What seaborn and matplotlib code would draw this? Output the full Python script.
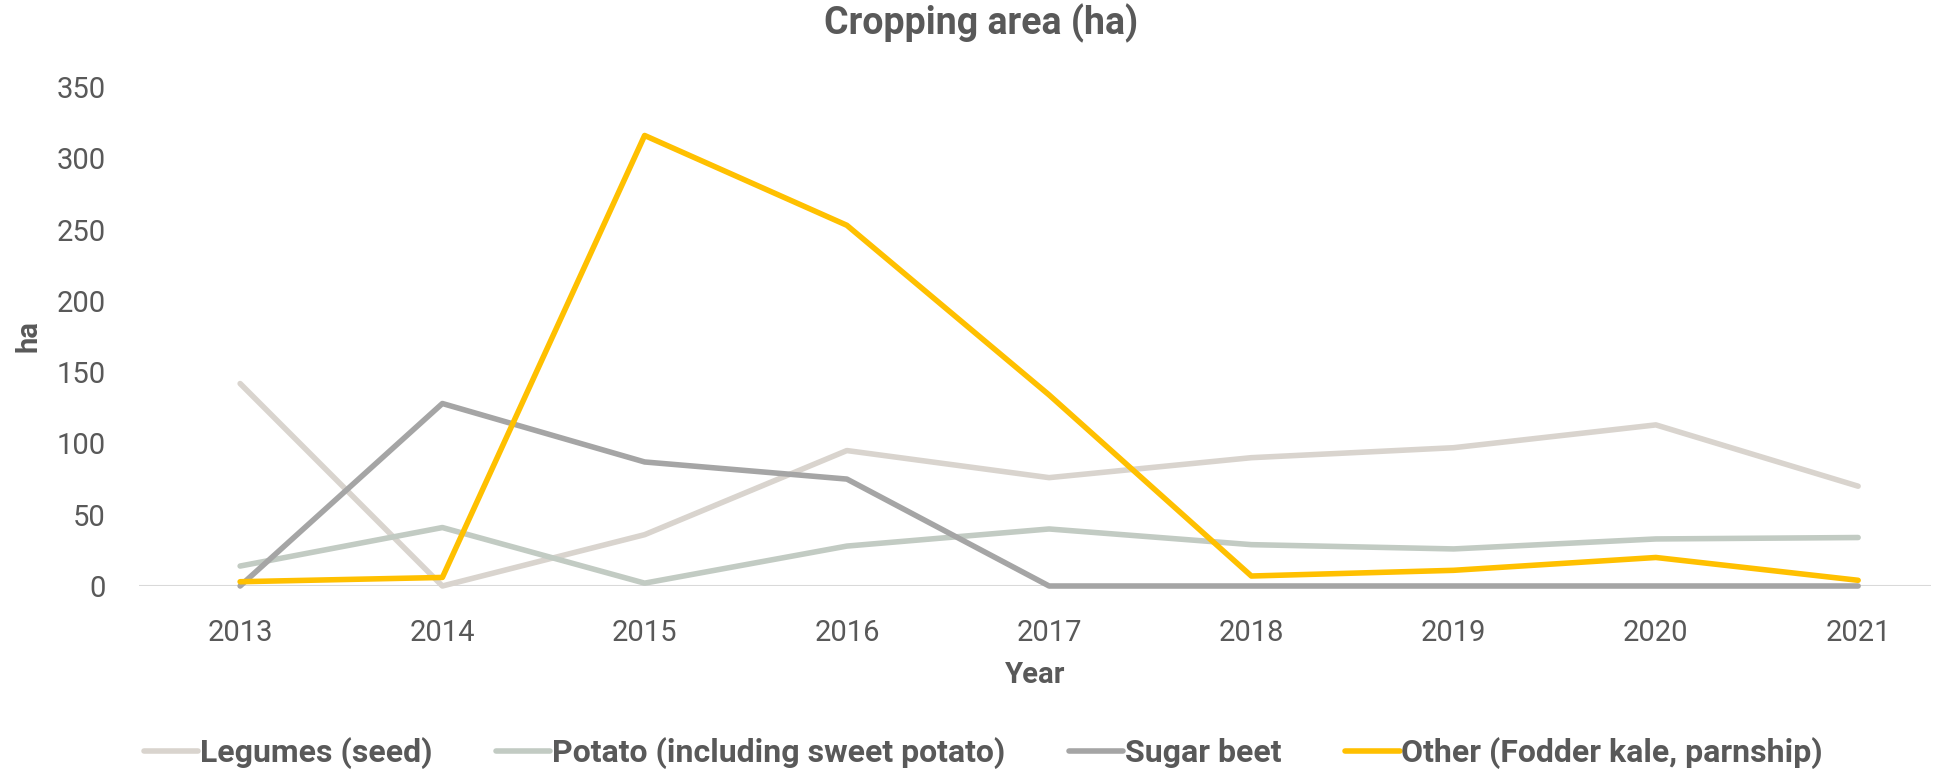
import numpy as np
import pandas as pd
import seaborn as sns
import matplotlib.pyplot as plt

years = [2013, 2014, 2015, 2016, 2017, 2018, 2019, 2020, 2021]
legumes = [142, 0, 36, 95, 76, 90, 97, 113, 70]
potato = [14, 41, 2, 28, 40, 29, 26, 33, 34]
sugar_beet = [0, 128, 87, 75, 0, 0, 0, 0, 0]
other = [3, 6, 316, 253, 134, 7, 11, 20, 4]

series_names = [
    "Legumes (seed)",
    "Potato (including sweet potato)",
    "Sugar beet",
    "Other (Fodder kale, parnship)",
]
colors = ["#D9D4CE", "#C2CBC3", "#A5A5A5", "#FFC000"]

df = pd.DataFrame({
    "Year": years * 4,
    "ha": legumes + potato + sugar_beet + other,
    "series": np.repeat(series_names, len(years)),
})

sns.set_theme(style="white")
plt.rcParams["font.family"] = ["Roboto", "DejaVu Sans"]
text_col = "#595959"

fig = plt.figure(figsize=(19.47, 7.7), dpi=100)
ax = fig.add_axes([139 / 1947, 1 - 586 / 770, 1792 / 1947, 499 / 770])

sns.lineplot(data=df, x="Year", y="ha", hue="series", hue_order=series_names,
             palette=colors, linewidth=4, ax=ax, legend=True,
             solid_capstyle="round")
for ln in ax.lines:
    ln.set_clip_on(False)

ax.set_xlim(2012.5, 2012.5 + 1792 / 202.25)
ax.set_ylim(0, 350)
ax.set_yticks(range(0, 351, 50))
ax.set_xticks(years)
ax.axhline(0, color="#D9D9D9", linewidth=1.5, zorder=0)
for s in ax.spines.values():
    s.set_visible(False)
ax.tick_params(axis="both", labelsize=21, colors=text_col, length=0)
ax.tick_params(axis="y", pad=24)
ax.tick_params(axis="x", pad=24)
ax.set_xlabel("Year", fontsize=21, fontweight="bold", color=text_col, labelpad=10)
ax.set_ylabel("ha", fontsize=21, fontweight="bold", color=text_col, labelpad=10)
fig.suptitle("Cropping area (ha)", fontsize=27, fontweight="bold", color=text_col,
             x=0.504, y=0.995, va="top")

handles, labels = ax.get_legend_handles_labels()
ax.get_legend().remove()
leg = fig.legend(handles, labels, loc="lower center", bbox_to_anchor=(0.505, -0.036),
                 ncol=4, frameon=False, handlelength=1.7, handletextpad=0.05,
                 columnspacing=2.0, prop={"size": 23, "weight": "bold"})
for t in leg.get_texts():
    t.set_color(text_col)

fig.savefig("out.png", dpi=100)
